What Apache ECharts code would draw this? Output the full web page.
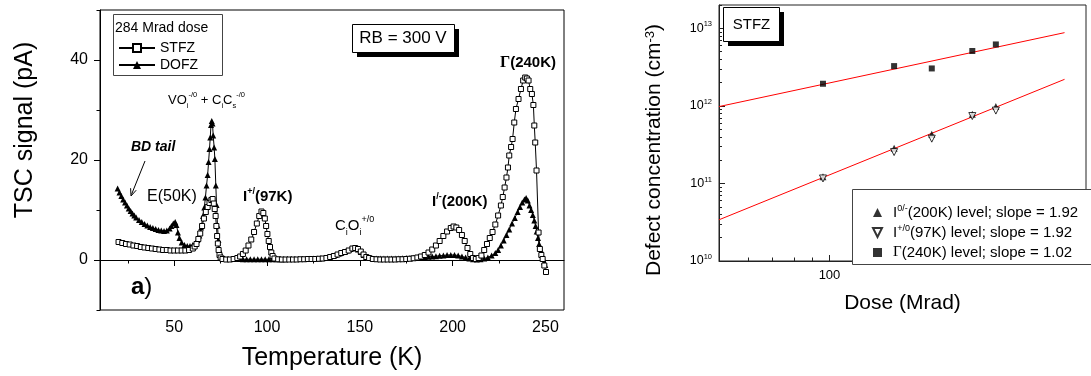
<!DOCTYPE html>
<html>
<head>
<meta charset="utf-8">
<script src="https://cdn.jsdelivr.net/npm/echarts@6/dist/echarts.min.js"></script>
<style>html,body{margin:0;padding:0;background:#fff}#c{width:1091px;height:376px}</style>
</head>
<body>
<div id="c"></div>
<script>
// ---------- Left panel: TSC spectra, 284 Mrad dose ----------
const stfzT = [20,22,24,26,28,30,32,34,36,38,40,42,44,46,48,50,52,54,56,58,60,61,62,63,64,65,66,67,68,69,70,70.7,71.3,71.8,72.3,72.7,73.1,73.5,73.9,74.4,75,76,78,80,82,84,85.5,87,88.5,90,91.5,93,94.5,95.8,97,98,98.8,99.5,100.2,100.9,101.6,102.3,103,104,106,108,110,112,114,116,118,120,122,124,126,128,130,132,134,136,138,140,142,144,146,147.5,149,150.5,152,153.5,155,157,159,161,163,165,167,169,171,173,175,177,179,181,183,185,187,189,191,193,195,197,199,200.5,202,203.5,205,206.5,208,209.5,211,212.5,214,215.5,217,218.5,220,221.5,223,224.5,226,227,228,229,229.8,230.5,231.5,232.3,233.2,234.1,235.5,236.8,238,239.1,240,240.9,241.8,242.7,243.5,244,244.5,245.2,246.3,247,247.8,248.5,249.4,250.3];
const stfzS = [3.6,3.4,3.2,3.1,2.9,2.8,2.6,2.5,2.4,2.3,2.2,2.1,2.0,2.0,1.9,1.9,1.9,1.9,1.9,2.0,2.3,2.7,3.2,4.2,5.3,6.8,8.3,9.6,10.6,11.4,12.0,12.2,11.3,10.2,8.8,6.8,4.8,3.3,2.0,1.0,0.5,0.2,0.1,0.1,0.2,0.4,0.7,1.2,1.9,2.9,4.1,5.6,7.3,8.8,9.7,9.4,8.3,6.8,5.2,3.8,2.6,1.5,0.8,0.3,0.15,0.1,0.1,0.1,0.1,0.1,0.15,0.15,0.2,0.2,0.2,0.25,0.3,0.4,0.6,0.8,1.1,1.4,1.6,1.9,2.3,2.4,2.2,1.7,1.1,0.6,0.4,0.2,0.15,0.1,0.1,0.1,0.1,0.1,0.15,0.15,0.2,0.25,0.35,0.5,0.7,1.0,1.5,2.1,2.9,3.8,4.8,5.7,6.4,6.7,6.5,6.0,5.0,3.8,2.4,1.2,0.4,0.2,0.4,0.9,2.0,3.2,4.4,5.6,7.1,8.9,10.9,12.6,14.5,16.5,18.5,20.9,22.6,24.2,27.5,30.2,32.2,34.2,35.9,36.5,36.3,35.9,34.2,33.2,31.0,26.9,23.5,17.9,5.5,2.2,1.0,0.2,-1.1,-2.4];

const dofzT = [19.5,20.5,21.5,22.5,23.5,24.5,25.5,26.5,27.5,28.5,29.5,31,32.5,34,35.5,37,38.5,40,41.5,43,44.5,46,47.5,48.5,49.5,50.5,51.2,52,52.8,54,55.5,57,58.5,60,61.5,62.5,63.5,64.5,65.5,66.2,66.8,67.4,68,68.5,69,69.4,69.8,70.2,70.6,71,71.5,71.9,72.4,72.8,73.3,73.8,74.2,75,75.7,77,79,81,83,85,87,89,91,93,95,97,99,101,103,105,107,109,111,113,115,117,119,121,123,125,127,129,131,133,135,137,139,141,143,145,147,149,150.5,152,153.5,155,157,159,161,163,165,167,169,171,173,175,177,179,181,183,185,187,189,191,193,195,197,199,201,203,205,207,209,211,213,215,217,219,221,223,224.5,226,227.5,229,230.5,232,233.5,235,236.3,237.5,238.7,239.6,240.5,241.4,242.3,243.2,244,244.7,245.3,246,246.6,247.3,248,248.7,249.3,249.9];
const dofzS = [14.3,13.5,12.8,12.1,11.5,10.9,10.3,9.8,9.3,8.9,8.5,8.0,7.6,7.2,6.9,6.6,6.4,6.2,6.0,5.9,5.8,5.9,6.3,6.8,7.3,7.6,7.0,5.5,4.4,3.5,3.0,2.8,2.8,3.0,3.4,4.0,4.9,6.5,8.8,10.5,12.5,14.9,17.0,19.6,22.2,24.5,27.0,27.8,27.3,24.9,22.5,20.2,14.9,11.0,6.9,4.0,2.2,1.2,0.6,0.3,0.2,0.2,0.2,0.2,0.15,0.15,0.15,0.15,0.15,0.15,0.15,0.15,0.15,0.15,0.15,0.15,0.2,0.2,0.2,0.2,0.2,0.2,0.25,0.3,0.3,0.35,0.45,0.6,0.8,1.0,1.3,1.6,1.9,2.2,2.4,2.1,1.6,1.0,0.6,0.4,0.3,0.3,0.3,0.3,0.3,0.3,0.3,0.3,0.35,0.4,0.4,0.45,0.5,0.55,0.6,0.65,0.7,0.75,0.85,0.9,1.0,1.0,1.0,0.9,0.7,0.5,0.3,0.15,0.1,0.15,0.3,0.5,0.9,1.4,2.0,2.9,3.9,5.0,6.1,7.3,8.4,9.6,10.6,11.5,12.1,12.4,11.9,10.9,10.0,9.0,7.9,6.8,5.7,4.4,3.2,2.2,1.2,0.4,-0.4,-1.0];

const tempMajorTicks = [50, 100, 150, 200, 250];
const tempMinorTicks = [25, 75, 125, 175, 225];
const signalMajorTicks = [0, 20, 40];
const signalMinorTicks = [-10, 10, 30, 50];

// ---------- Right panel: defect concentration vs dose (STFZ) ----------
const doses = [96, 150, 190, 245, 284];
const iMinus200 = [1.22e11, 2.84e11, 4.3e11, 7.8e11, 9.8e11];
const iPlus97 = [1.16e11, 2.54e11, 3.78e11, 7.4e11, 8.7e11];
const gamma240 = [1.93e12, 3.26e12, 3.04e12, 5.1e12, 6.2e12];
const fitDose = [50, 437];
const fitI = [3.4e10, 2.2e12];
const fitGamma = [0.98e12, 8.8e12];
const doseMajorTicks = [100];
const doseMinorTicks = [60, 70, 80, 90, 200, 300, 400];
const concMajorTicks = [1e10, 1e11, 1e12, 1e13];
const concMinorTicks = [2e10,3e10,4e10,5e10,6e10,7e10,8e10,9e10,2e11,3e11,4e11,5e11,6e11,7e11,8e11,9e11,2e12,3e12,4e12,5e12,6e12,7e12,8e12,9e12,2e13];

const FF = '"Liberation Sans", Arial, Helvetica, sans-serif';
const SERIF = '"Liberation Serif", "Times New Roman", serif';
const zip = (xs, ys) => xs.map((x, i) => [x, ys[i]]);

const chart = echarts.init(document.getElementById('c'));

const supStyle = (fs, extra) => Object.assign({fontSize: fs, lineHeight: fs, verticalAlign: 'top', fontFamily: FF, color: '#000'}, extra || {});
const subStyle = (fs, extra) => Object.assign({fontSize: fs, lineHeight: fs, verticalAlign: 'bottom', fontFamily: FF, color: '#000'}, extra || {});

const legendNames = {
  'I0/- (200K)': 'I{s|0/-}(200K) level; slope = 1.92',
  'I+/0 (97K)': 'I{s|+/0}(97K) level; slope = 1.92',
  'Γ (240K)': '{g|Γ}(240K) level; slope = 1.02'
};

function txt(x, y, text, style) {
  return {type: 'text', x: x, y: y, z: 20, silent: true,
    style: Object.assign({text: text, fill: '#000', fontFamily: FF, align: 'left', verticalAlign: 'middle'}, style)};
}

const option = {
  animation: false,
  textStyle: {fontFamily: FF, color: '#000'},
  grid: [
    {left: 100, top: 10, width: 464, height: 301, show: true, borderColor: '#000', borderWidth: 1, backgroundColor: 'transparent'},
    {left: 719, top: 5, width: 367, height: 256, show: true, borderColor: '#222', borderWidth: 1, backgroundColor: 'transparent'}
  ],
  xAxis: [
    {type: 'value', gridIndex: 0, min: 10, max: 260, position: 'bottom',
      name: 'Temperature (K)', nameLocation: 'middle', nameGap: 36,
      nameTextStyle: {fontSize: 25, fontFamily: FF, color: '#000'},
      axisLine: {lineStyle: {color: '#000', width: 1}},
      axisTick: {inside: false, length: 6, customValues: tempMajorTicks, lineStyle: {color: '#000'}},
      axisLabel: {customValues: tempMajorTicks, fontSize: 16, margin: 10, color: '#000'},
      splitLine: {show: false}},
    {type: 'value', gridIndex: 0, min: 10, max: 260, position: 'bottom',
      axisLine: {show: false},
      axisTick: {inside: false, length: 3.5, customValues: tempMinorTicks, lineStyle: {color: '#000'}},
      axisLabel: {show: false}, splitLine: {show: false}},
    {type: 'log', logBase: 10, gridIndex: 1, min: 50, max: 500, position: 'bottom',
      name: 'Dose (Mrad)', nameLocation: 'middle', nameGap: 32,
      nameTextStyle: {fontSize: 21, fontFamily: FF, color: '#000'},
      axisLine: {lineStyle: {color: '#222', width: 1}},
      axisTick: {inside: true, length: 6, customValues: doseMajorTicks, lineStyle: {color: '#222'}},
      axisLabel: {customValues: doseMajorTicks, fontSize: 13, margin: 8, color: '#000'},
      splitLine: {show: false}, minorSplitLine: {show: false}},
    {type: 'log', logBase: 10, gridIndex: 1, min: 50, max: 500, position: 'bottom',
      axisLine: {show: false},
      axisTick: {inside: true, length: 3.5, customValues: doseMinorTicks, lineStyle: {color: '#222'}},
      axisLabel: {show: false}, splitLine: {show: false}}
  ],
  yAxis: [
    {type: 'value', gridIndex: 0, min: -10, max: 50, position: 'left',
      name: 'TSC signal (pA)', nameLocation: 'middle', nameGap: 62, nameRotate: 90,
      nameTextStyle: {fontSize: 25, fontFamily: FF, color: '#000', padding: [0, 0, 0, 60]},
      axisLine: {lineStyle: {color: '#000', width: 1}},
      axisTick: {inside: false, length: 6, customValues: signalMajorTicks, lineStyle: {color: '#000'}},
      axisLabel: {customValues: signalMajorTicks, fontSize: 16, margin: 12, color: '#000'},
      splitLine: {show: false}},
    {type: 'value', gridIndex: 0, min: -10, max: 50, position: 'left',
      axisLine: {show: false},
      axisTick: {inside: false, length: 3.5, customValues: signalMinorTicks, lineStyle: {color: '#000'}},
      axisLabel: {show: false}, splitLine: {show: false}},
    {type: 'log', logBase: 10, gridIndex: 1, min: 1e10, max: 2e13, position: 'left',
      name: 'Defect concentration (cm{s|-3})', nameLocation: 'middle', nameGap: 54, nameRotate: 90,
      nameTextStyle: {fontSize: 21, fontFamily: FF, color: '#000', padding: [0, 34, 0, 0],
        rich: {s: supStyle(13)}},
      axisLine: {lineStyle: {color: '#222', width: 1}},
      axisTick: {inside: true, length: 6, customValues: concMajorTicks, lineStyle: {color: '#222'}},
      axisLabel: {customValues: concMajorTicks, margin: 7, color: '#000',
        formatter: v => '{b|10}{s|' + Math.round(Math.log10(v)) + '}',
        rich: {b: {fontSize: 12.5, lineHeight: 16, fontFamily: FF, color: '#000'}, s: supStyle(7.5)}},
      splitLine: {show: false}, minorSplitLine: {show: false}},
    {type: 'log', logBase: 10, gridIndex: 1, min: 1e10, max: 2e13, position: 'left',
      axisLine: {show: false},
      axisTick: {inside: true, length: 3, customValues: concMinorTicks, lineStyle: {color: '#222'}},
      axisLabel: {show: false}, splitLine: {show: false}}
  ],
  legend: [
    {left: 113, top: 36, orient: 'vertical', itemWidth: 36, itemHeight: 10, itemGap: 3,
      data: ['STFZ', 'DOFZ'], selectedMode: false, z: 30,
      textStyle: {fontSize: 14, lineHeight: 14, fontFamily: FF, color: '#000'}},
    {left: 867, top: 199, orient: 'vertical', itemWidth: 9, itemHeight: 9, itemGap: 3,
      data: ['I0/- (200K)', 'I+/0 (97K)', 'Γ (240K)'], selectedMode: false, z: 30,
      formatter: n => legendNames[n],
      textStyle: {fontSize: 15, lineHeight: 17, fontFamily: FF, color: '#000', padding: [0, 0, 0, 6],
        rich: {s: supStyle(9), g: {fontSize: 15, lineHeight: 17, fontFamily: SERIF, color: '#000'}}}}
  ],
  series: [
    {name: 'DOFZ', type: 'line', xAxisIndex: 0, yAxisIndex: 0, data: zip(dofzT, dofzS),
      symbol: 'triangle', symbolSize: 6, showSymbol: true, silent: true,
      itemStyle: {color: '#000'}, lineStyle: {color: '#000', width: 1}},
    {name: 'STFZ', type: 'line', xAxisIndex: 0, yAxisIndex: 0, data: zip(stfzT, stfzS),
      symbol: 'rect', symbolSize: 5, showSymbol: true, silent: true,
      itemStyle: {color: '#fff', borderColor: '#000', borderWidth: 1}, lineStyle: {color: '#000', width: 1}},
    {name: 'fitGamma', type: 'line', xAxisIndex: 2, yAxisIndex: 2, data: zip(fitDose, fitGamma),
      symbol: 'none', silent: true, z: 1, lineStyle: {color: '#ff0000', width: 1}},
    {name: 'fitI', type: 'line', xAxisIndex: 2, yAxisIndex: 2, data: zip(fitDose, fitI),
      symbol: 'none', silent: true, z: 1, lineStyle: {color: '#ff0000', width: 1}},
    {name: 'I0/- (200K)', type: 'scatter', xAxisIndex: 2, yAxisIndex: 2, data: zip(doses, iMinus200),
      symbol: 'triangle', symbolSize: 7, silent: true, itemStyle: {color: '#000'}},
    {name: 'I+/0 (97K)', type: 'scatter', xAxisIndex: 2, yAxisIndex: 2, data: zip(doses, iPlus97),
      symbol: 'path://M0,0L10,0L5,10Z', symbolSize: 7, silent: true,
      itemStyle: {color: '#fff', borderColor: '#000', borderWidth: 1}},
    {name: 'Γ (240K)', type: 'scatter', xAxisIndex: 2, yAxisIndex: 2, data: zip(doses, gamma240),
      symbol: 'rect', symbolSize: 6, silent: true, itemStyle: {color: '#000'}}
  ],
  graphic: {elements: [
    // left legend box
    {type: 'rect', z: 20, silent: true, shape: {x: 113.5, y: 14.5, width: 109, height: 61},
      style: {fill: 'none', stroke: '#444', lineWidth: 1}},
    txt(115, 28, '284 Mrad dose', {fontSize: 14}),
    // RB box
    {type: 'rect', z: 20, silent: true, shape: {x: 357, y: 29, width: 102, height: 28}, style: {fill: '#000'}},
    {type: 'rect', z: 21, silent: true, shape: {x: 352.5, y: 24.5, width: 102, height: 28}, style: {fill: '#fff', stroke: '#000', lineWidth: 1}},
    Object.assign(txt(403, 38.5, 'RB = 300 V', {fontSize: 17, align: 'center'}), {z: 22}),
    // annotations
    txt(500, 63, '{g|Γ}(240K)', {fontSize: 15, fontWeight: 'bold',
      rich: {g: {fontSize: 16, fontWeight: 'bold', fontFamily: SERIF, color: '#000'}}}),
    txt(168, 100, 'VO{d|i}{u|-/0} + C{d|i}C{d|s}{u|-/0}', {fontSize: 13, lineHeight: 19,
      rich: {u: supStyle(7.5), d: subStyle(7.5)}}),
    txt(131, 147, 'BD tail', {fontSize: 14, fontWeight: 'bold', fontStyle: 'italic'}),
    txt(147, 197, 'E(50K)', {fontSize: 16}),
    txt(243, 197, 'I{u|+/}(97K)', {fontSize: 15, fontWeight: 'bold', lineHeight: 20,
      rich: {u: supStyle(9, {fontWeight: 'bold'})}}),
    txt(335, 226, 'C{d|i}O{d|i}{u|+/0}', {fontSize: 15, lineHeight: 22,
      rich: {u: supStyle(9), d: subStyle(9)}}),
    txt(432, 202, 'I{u|/-}(200K)', {fontSize: 15, fontWeight: 'bold', lineHeight: 20,
      rich: {u: supStyle(9, {fontWeight: 'bold'})}}),
    txt(131, 287, '{a|a})', {fontSize: 24, rich: {a: {fontSize: 24, fontWeight: 'bold', fontFamily: FF, color: '#000'}}}),
    // BD tail arrow
    {type: 'line', z: 20, silent: true, shape: {x1: 145, y1: 161, x2: 131.5, y2: 194.5}, style: {stroke: '#000', lineWidth: 1}},
    {type: 'polyline', z: 20, silent: true, shape: {points: [[136.2, 190.2], [131, 196], [130.6, 188.2]]}, style: {stroke: '#000', lineWidth: 1, fill: 'none'}},
    // right: STFZ box
    {type: 'rect', z: 20, silent: true, shape: {x: 728, y: 12, width: 56, height: 34}, style: {fill: '#000'}},
    {type: 'rect', z: 21, silent: true, shape: {x: 723.5, y: 7.5, width: 56, height: 34}, style: {fill: '#fff', stroke: '#000', lineWidth: 1}},
    Object.assign(txt(751.5, 24.5, 'STFZ', {fontSize: 15, align: 'center'}), {z: 22}),
    // right legend box
    {type: 'rect', z: 20, silent: true, shape: {x: 852.5, y: 189.5, width: 245, height: 75}, style: {fill: '#fff', stroke: '#444', lineWidth: 1}}
  ]}
};
chart.setOption(option);
</script>
</body>
</html>
